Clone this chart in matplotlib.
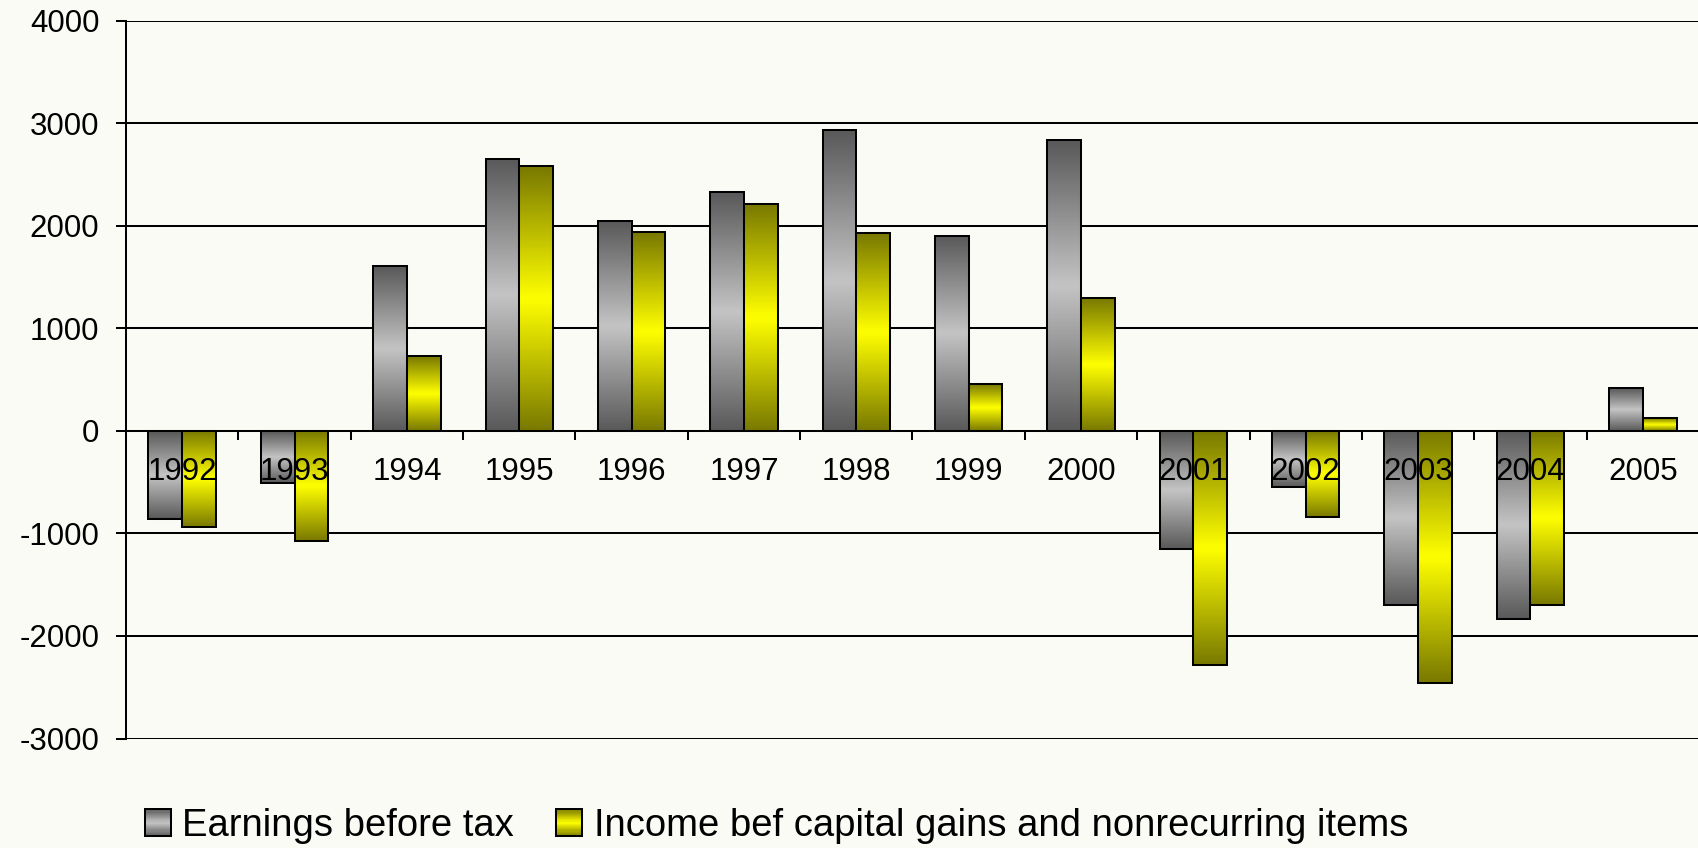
import numpy as np
import matplotlib
matplotlib.use("Agg")
import matplotlib.pyplot as plt
from matplotlib.patches import Rectangle
from matplotlib.legend_handler import HandlerBase
from matplotlib.colors import to_rgb

plt.rcParams['font.family'] = ['Liberation Sans', 'DejaVu Sans']
plt.rcParams['axes.unicode_minus'] = False

#%% DATA
years = ['1992', '1993', '1994', '1995', '1996', '1997', '1998',
         '1999', '2000', '2001', '2002', '2003', '2004', '2005']
earnings = [-857, -504, 1608, 2656, 2042, 2328, 2931,
            1905, 2836, -1148, -546, -1698, -1834, 417]
income = [-938, -1073, 730, 2582, 1937, 2212, 1926,
          455, 1291, -2280, -836, -2462, -1698, 124]

labels = ['Earnings before tax', 'Income bef capital gains and nonrecurring items']
dark_cols = ['#5a5a5a', '#7a7a00']
light_cols = ['#c4c4c4', '#ffff00']
bg = '#FBFBF5'
lw = 1.45


def grad_color(dark, light, t):
    d = np.array(to_rgb(dark))
    l = np.array(to_rgb(light))
    k = 1 - abs(2 * t - 1)
    return d + (l - d) * k


class GradHandler(HandlerBase):
    def __init__(self, dark, light):
        super().__init__()
        self.dark = dark
        self.light = light

    def create_artists(self, legend, orig_handle, xdescent, ydescent,
                       width, height, fontsize, trans):
        arts = []
        n = 24
        for i in range(n):
            c = grad_color(self.dark, self.light, (i + 0.5) / n)
            arts.append(Rectangle((-xdescent, -ydescent + i * height / n), width,
                                  height / n + 0.01, facecolor=c, edgecolor='none',
                                  transform=trans))
        arts.append(Rectangle((-xdescent, -ydescent), width, height, facecolor='none',
                              edgecolor='black', lw=lw, transform=trans))
        return arts


fig = plt.figure(figsize=(16.99, 8.48), dpi=100, facecolor=bg)
ax = fig.add_axes([126 / 1699, 1 - 738.5 / 848, 1 - 126 / 1699, (738.5 - 20.7) / 848])
ax.set_facecolor(bg)

x = np.arange(len(years))
w = 0.3
for k, vals in enumerate([earnings, income]):
    off = (k - 0.5) * w
    bars = ax.bar(x + off, vals, w, facecolor='none', edgecolor='black',
                  linewidth=lw, zorder=2)
    # gradient fill along bar length
    grad = np.array([grad_color(dark_cols[k], light_cols[k], t)
                     for t in np.linspace(0, 1, 64)])[:, None, :]
    for r in bars:
        x0, y0 = r.get_x(), r.get_y()
        x1, y1 = x0 + r.get_width(), y0 + r.get_height()
        ax.imshow(grad, extent=[x0, x1, min(y0, y1), max(y0, y1)], aspect='auto',
                  interpolation='bilinear', zorder=1.5)

ax.set_xlim(-0.5, len(years) - 0.5)
ax.set_ylim(-3000, 4000)
ax.set_yticks(np.arange(-3000, 4001, 1000))
for yv in np.arange(-3000, 4001, 1000):
    ax.axhline(yv, color='black', lw=lw, zorder=0.5)

ax.set_axisbelow(False)
ax.spines['top'].set_visible(False)
ax.spines['right'].set_visible(False)
ax.spines['bottom'].set_position(('data', 0))
ax.spines['left'].set_linewidth(lw)
ax.spines['bottom'].set_linewidth(lw)

ax.set_xticks(x)
ax.set_xticklabels(years)
ax.set_xticks(np.arange(0.5, len(years) - 0.5, 1), minor=True)
ax.tick_params(axis='x', which='major', length=0, pad=19, labelsize=22.5)
ax.tick_params(axis='x', which='minor', length=6.5, width=lw, direction='out')
ax.tick_params(axis='y', length=7.2, width=lw, pad=12, labelsize=22.5)

handles = [Rectangle((0, 0), 1, 1), Rectangle((0, 0), 1, 1)]
fig.legend(handles, labels, ncol=2, frameon=False, fontsize=27.5,
           loc='center left', bbox_to_anchor=(145 / 1699, 1 - 826 / 848),
           borderpad=0, borderaxespad=0, handlelength=0.68, handleheight=0.7,
           handletextpad=0.3, columnspacing=1.1,
           handler_map={handles[0]: GradHandler(dark_cols[0], light_cols[0]),
                        handles[1]: GradHandler(dark_cols[1], light_cols[1])})

fig.savefig('out.png', dpi=100, facecolor=bg)
